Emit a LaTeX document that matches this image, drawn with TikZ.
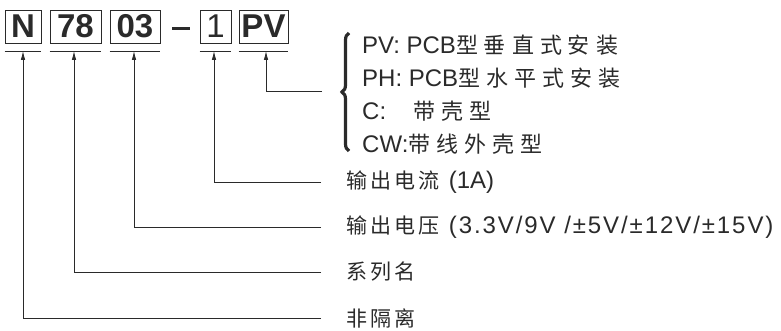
\documentclass[tikz,border=0pt]{standalone}
\usepackage{fontspec}
\setmainfont{Liberation Sans}
\newfontfamily\cjk{Noto Sans CJK SC}
\usetikzlibrary{decorations.pathreplacing,arrows.meta}
\newdimen\cjgap
\def\cjs#1{\cjsA#1\relax}
\def\cjsA#1{\ifx\relax#1\else#1\kern\cjgap\expandafter\cjsA\fi}
\definecolor{ink}{HTML}{2A2A2A}
\tikzset{
  codebox/.style={draw=ink, line width=0.9pt, minimum height=33pt, inner sep=0pt,
    text=ink, font=\bfseries\fontsize{33}{33}\selectfont},
  conn/.style={draw=ink, line width=0.8pt},
  tip/.style={-{Latex[length=9pt,width=4.5pt]}},
  lbl/.style={anchor=west, inner sep=0pt, text=ink, font=\fontsize{24}{24}\selectfont},
  opt/.style={anchor=west, inner sep=0pt, text=ink, font=\fontsize{24}{24}\selectfont},
}
\newcommand\lcj[1]{{\cjk\fontsize{21}{21}\selectfont\cjs{#1}}}
\newcommand\ocj[1]{{\cjk\fontsize{22}{22}\selectfont\cjs{#1}}}
\begin{document}
\begin{tikzpicture}[x=1pt,y=-1pt]
\useasboundingbox (0,0) rectangle (781,331);
% code boxes
\node[codebox, minimum width=36pt] (bN) at (23,26.5) {N};
\node[codebox, minimum width=51pt] (b78) at (75.5,26.5) {78};
\node[codebox, minimum width=50pt] (b03) at (135,26.5) {03};
\node[codebox, minimum width=31pt, font=\fontsize{33}{33}\selectfont] (b1) at (215.5,26.5) {1};
\node[codebox, minimum width=49pt] (bPV) at (263.5,26.5) {PV};
\coordinate (d1) at (172,28.5);
\coordinate (d2) at (190,28.5);
\draw[ink, line width=3pt] (d1) -- (d2);
% underlines
\foreach \b in {bN,b78,b03,b1,bPV}{
  \draw[conn] ([yshift=-8pt]\b.south west) -- ([yshift=-8pt]\b.south east);
}
\coordinate (uN) at (23,51);
\coordinate (u78) at (74,51);
\coordinate (u03) at (134,51);
\coordinate (u1) at (214,51);
\coordinate (uPV) at (266,51);
% labels
\cjgap=3pt
\node[lbl] (lA) at (346,182) {\lcj{输出电流} (1A)};
\node[lbl] (lV) at (346,227) {\lcj{输出电压} {\addfontfeature{LetterSpace=8}(3.3V/9V /±5V/±12V/±15V)}};
\node[lbl] (lS) at (346,272) {\lcj{系列名}};
\node[lbl] (lN) at (346,318) {\lcj{非隔离}};
\coordinate (eA) at (321,182);
\coordinate (eV) at (321,227);
\coordinate (eS) at (321,272);
\coordinate (eN) at (321,318);
\coordinate (ePV) at (322,91);
\draw[conn,tip] (eA) -| (u1);
\draw[conn,tip] (eV) -| (u03);
\draw[conn,tip] (eS) -| (u78);
\draw[conn,tip] (eN) -| (uN);
\draw[conn,tip] (ePV) -| (uPV);
% brace
\coordinate (brB) at (349,151);
\coordinate (brT) at (349,33);
\draw[ink, line width=3.2pt, decorate, decoration={brace, amplitude=7pt}] (brB) -- (brT);
% options
\cjgap=6pt
\node[opt] (oPV) at (362,45) {PV: PCB\ocj{型垂直式安装}};
\node[opt] (oPH) at (362,78) {PH: PCB\ocj{型水平式安装}};
\node[opt] (oC) at (362,111) {C:\hspace{27pt}\ocj{带壳型}};
\node[opt] (oCW) at (362,144) {CW:\ocj{带线外壳型}};
\end{tikzpicture}
\end{document}
